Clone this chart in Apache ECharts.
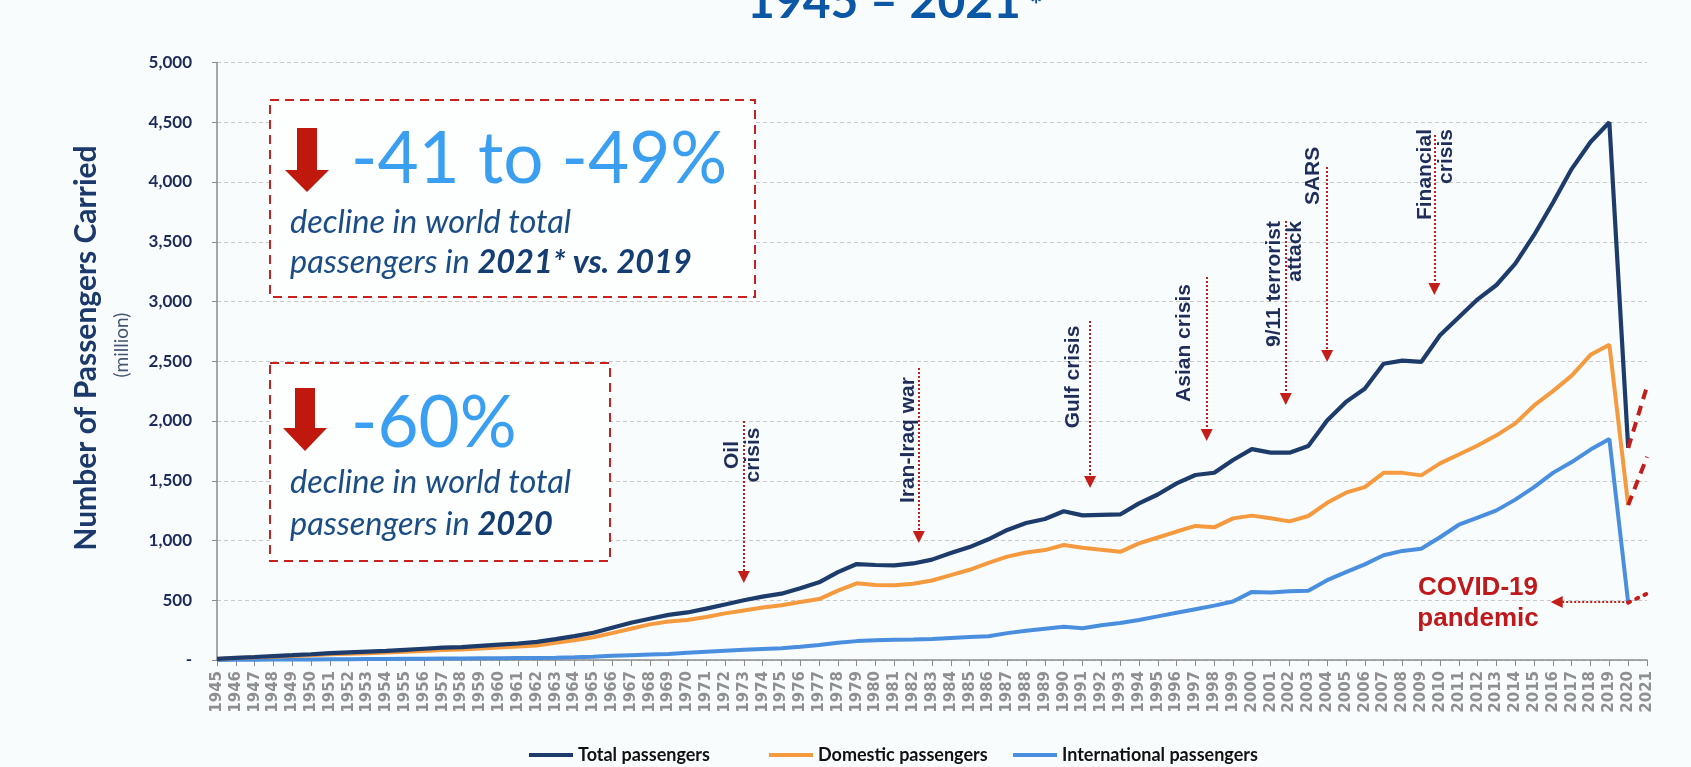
<!DOCTYPE html>
<html><head><meta charset="utf-8">
<script src="https://cdn.jsdelivr.net/npm/echarts@6/dist/echarts.min.js"></script>
<style>html,body{margin:0;padding:0;background:#f8fcfd;}#c{width:1691px;height:767px;}</style>
</head><body><div id="c"></div>
<script>
const years = ['1945','1946','1947','1948','1949','1950','1951','1952','1953','1954','1955','1956','1957','1958','1959','1960','1961','1962','1963','1964','1965','1966','1967','1968','1969','1970','1971','1972','1973','1974','1975','1976','1977','1978','1979','1980','1981','1982','1983','1984','1985','1986','1987','1988','1989','1990','1991','1992','1993','1994','1995','1996','1997','1998','1999','2000','2001','2002','2003','2004','2005','2006','2007','2008','2009','2010','2011','2012','2013','2014','2015','2016','2017','2018','2019','2020','2021'];
const totalPassengers = [10,18,25,33,40,48,58,64,70,76, 85,94,103,108,118,128,138,152,175,200, 228,270,312,345,378,398,430,465,500,530, 555,600,650,735,803,795,792,808,840,895, 945,1010,1088,1146,1180,1245,1210,1215,1218,1311, 1385,1478,1548,1567,1674,1765,1735,1735,1790,2005, 2160,2270,2479,2505,2494,2718,2868,3018,3138,3317, 3557,3826,4110,4335,4500,1775,null];
const domesticPassengers = [9,16,22,28,34,40,48,52,57,62, 69,76,83,87,96,104,112,122,145,165, 190,225,262,298,322,335,360,390,415,440, 458,485,510,580,642,628,625,638,665,710, 755,812,865,900,920,962,940,922,905,976, 1025,1075,1122,1110,1185,1208,1186,1160,1205,1315, 1400,1446,1566,1566,1545,1645,1720,1795,1880,1980, 2130,2250,2380,2554,2638,1296,null];
const internationalPassengers = [1,2,3,4,4,5,6,7,8,9, 10,11,12,13,14,15,16,17,19,22, 28,35,40,45,50,60,70,78,85,92, 98,110,125,145,158,165,170,172,175,185, 192,198,225,245,262,278,265,290,310,335, 365,395,425,455,490,570,565,575,580,668, 735,800,877,913,931,1027,1132,1192,1252,1342, 1446,1566,1656,1761,1850,480,null];
// 2021* outlook segments
const outlookYears = [2020, 2021];
const totalOutlook = [1775, 2290];
const domesticOutlook = [1296, 1700];
const internationalOutlook = [480, 555];
// crisis annotations: label, year, arrow start value, arrow tip value
const events = [
  {text:'Oil\ncrisis', year:1973, from:2000, to:695},
  {text:'Iran-Iraq war', year:1982.3, from:2443, to:1029},
  {text:'Gulf crisis', year:1991.4, from:2837, to:1490},
  {text:'Asian crisis', year:1997.6, from:3205, to:1883},
  {text:'9/11 terrorist\nattack', year:2001.8, from:3674, to:2184},
  {text:'SARS', year:2004, from:4126, to:2544},
  {text:'Financial\ncrisis', year:2009.7, from:4393, to:3105}
];
const covidArrow = {fromYear:2020, toYear:2016.2, value:485};
const yTicks = {min:0, max:5000, interval:500};

const NAVY='#1d3b6b', ORANGE='#f59a3f', BLUE='#4a8fdf', RED='#c41e1a';
const pairs = (xs, ys) => xs.map((x,i)=>[x, ys[i]]);

const chart = echarts.init(document.getElementById('c'));
const legendText = {fontFamily:'Lato', fontWeight:'bold', fontSize:18, color:'#111'};
const mkLegend = (name, left) => ({data:[name], left:left, top:741, icon:'rect', itemWidth:44, itemHeight:4, textStyle:legendText, selectedMode:false});

const option = {
  backgroundColor:'#f8fcfd',
  animation:false,
  grid:{left:217, right:44, top:62.5, bottom:107},
  legend:[mkLegend('Total passengers',524), mkLegend('Domestic passengers',764), mkLegend('International passengers',1008)],
  xAxis:[{
    type:'category', data:years, boundaryGap:false,
    axisLine:{lineStyle:{color:'#8c8c8c', width:1.5}},
    axisTick:{show:true, length:6, interval:0, lineStyle:{color:'#8c8c8c'}},
    axisLabel:{interval:0, rotate:90, margin:11, color:'#8f8f8f', fontFamily:'DejaVu Sans', fontWeight:'bold', fontSize:15},
    splitLine:{show:false}
  },{
    type:'value', min:1945, max:2021, show:false
  }],
  yAxis:{
    type:'value', min:yTicks.min, max:yTicks.max, interval:yTicks.interval,
    axisLine:{show:true, lineStyle:{color:'#8c8c8c', width:1.5}},
    axisTick:{show:true, length:5, lineStyle:{color:'#8c8c8c'}},
    axisLabel:{margin:25, color:'#1d2b5a', fontFamily:'Lato', fontWeight:'bold', fontSize:17,
      formatter:v => v===0 ? '-' : v.toLocaleString('en-US')},
    splitLine:{show:true, lineStyle:{color:'#c9c9c9', type:[4,3], width:1}}
  },
  series:[
    {name:'International passengers', type:'line', data:internationalPassengers, symbol:'none', lineStyle:{color:BLUE, width:4}, itemStyle:{color:BLUE}, z:3},
    {name:'Domestic passengers', type:'line', data:domesticPassengers, symbol:'none', lineStyle:{color:ORANGE, width:4}, itemStyle:{color:ORANGE}, z:4},
    {name:'Total passengers', type:'line', data:totalPassengers, symbol:'none', lineStyle:{color:NAVY, width:4.2}, itemStyle:{color:NAVY}, z:5},
    {name:'Total 2021*', type:'line', xAxisIndex:1, data:pairs(outlookYears,totalOutlook), symbol:'none', lineStyle:{color:RED, width:4, type:[10,7]}, z:6},
    {name:'Domestic 2021*', type:'line', xAxisIndex:1, data:pairs(outlookYears,domesticOutlook), symbol:'none', lineStyle:{color:RED, width:4, type:[10,7]}, z:6},
    {name:'International 2021*', type:'line', xAxisIndex:1, data:pairs(outlookYears,internationalOutlook), symbol:'none', lineStyle:{color:RED, width:4, type:[2,7], cap:'round'}, itemStyle:{color:RED}, z:6,
      markLine:{
        silent:true, animation:false,
        symbol:['none','triangle'], symbolSize:12,
        label:{show:false},
        itemStyle:{color:RED},
        lineStyle:{color:RED, width:2, type:[2,2], opacity:1},
        emphasis:{disabled:true},
        data: events.map(e => [{coord:[e.year, e.from]}, {coord:[e.year, e.to]}])
          .concat([[{coord:[covidArrow.fromYear, covidArrow.value]}, {coord:[covidArrow.toYear, covidArrow.value]}]])
      }
    }
  ],
  graphic:[]
};
chart.setOption(option);

const px = (yr, v) => chart.convertToPixel({xAxisIndex:1, yAxisIndex:0}, [yr, v]);
const evLayout = [
  {dx:-1, dy:34, align:'center'},
  {dx:-11, dy:72, align:'center'},
  {dx:-17, dy:56, align:'center'},
  {dx:-23, dy:66, align:'center'},
  {dx:-1, dy:0, align:'right'},
  {dx:-14, dy:9, align:'center'},
  {dx:1, dy:-6, align:'right'}
];
const evFont = {fontFamily:'Liberation Sans', fontWeight:'bold', fontSize:21, fill:'#1f2d5a', lineHeight:21};
const g = [];
events.forEach((e,i) => {
  const p = px(e.year, e.from);
  const L = evLayout[i];
  g.push({type:'text', x:p[0]+L.dx, y:p[1]+L.dy, rotation:Math.PI/2, z:20,
    style:Object.assign({text:e.text, textAlign:L.align, textVerticalAlign:'middle'}, evFont)});
});
// title (partially cut off at the top)
g.push({type:'text', x:884, y:3, z:20, style:{text:'1945 – 2021', fontFamily:'Lato', fontWeight:'bold', fontSize:48, fill:'#0b57a6', textAlign:'center', textVerticalAlign:'middle'}});
g.push({type:'text', x:1036, y:6, z:20, style:{text:'*', fontFamily:'Lato', fontWeight:'bold', fontSize:30, fill:'#0b57a6', textAlign:'center', textVerticalAlign:'middle'}});
// y axis title
g.push({type:'text', x:86, y:348, rotation:Math.PI/2, z:20, style:{text:'Number of Passengers Carried', fontFamily:'Lato', fontWeight:'bold', fontSize:30, fill:'#1b3a6b', textAlign:'center', textVerticalAlign:'middle'}});
g.push({type:'text', x:122, y:345, rotation:Math.PI/2, z:20, style:{text:'(million)', fontFamily:'Lato', fontSize:19, fill:'#44556f', textAlign:'center', textVerticalAlign:'middle'}});
// boxes
const boxStyle = {fill:'#fdfefe', stroke:'#c9211e', lineWidth:2, lineDash:[9,6]};
g.push({type:'rect', z:15, shape:{x:270, y:100, width:485, height:197}, style:boxStyle});
g.push({type:'rect', z:15, shape:{x:270, y:363, width:340, height:198}, style:boxStyle});
const arrow = (cx, top, shaftBottom, tip) => ({type:'polygon', z:20, shape:{points:[[cx-10,top],[cx+10,top],[cx+10,shaftBottom],[cx+22,shaftBottom],[cx,tip],[cx-22,shaftBottom],[cx-10,shaftBottom]]}, style:{fill:'#c0180c'}});
g.push(arrow(307, 128, 170, 192));
g.push(arrow(305, 388, 428, 451));
const big = {fontFamily:'Lato', fontSize:71, fill:'#3a9ff0', textAlign:'left', textVerticalAlign:'middle'};
g.push({type:'text', x:351, y:160, z:20, style:Object.assign({text:'-41 to -49%'}, big)});
g.push({type:'text', x:351, y:424, z:20, style:Object.assign({text:'-60%'}, big)});
const it = {fontFamily:'Lato', fontStyle:'italic', fontSize:32.5, fill:'#1a4c86'};
const itb = {fontFamily:'Lato', fontStyle:'italic', fontWeight:'bold', fontSize:32.5, fill:'#143d73'};
g.push({type:'text', x:290, y:223, z:20, style:Object.assign({text:'decline in world total', textAlign:'left', textVerticalAlign:'middle'}, it)});
g.push({type:'text', x:290, y:263, z:20, style:{text:'{a|passengers in }{b|2021* vs. 2019}', textAlign:'left', textVerticalAlign:'middle', rich:{a:it, b:itb}}});
g.push({type:'text', x:290, y:483, z:20, style:Object.assign({text:'decline in world total', textAlign:'left', textVerticalAlign:'middle'}, it)});
g.push({type:'text', x:290, y:525, z:20, style:{text:'{a|passengers in }{b|2020}', textAlign:'left', textVerticalAlign:'middle', rich:{a:it, b:itb}}});
// COVID label
g.push({type:'text', x:1478, y:603, z:20, style:{text:'COVID-19\npandemic', fontFamily:'Liberation Sans', fontWeight:'bold', fontSize:26, lineHeight:31, fill:'#c0191b', textAlign:'center', textVerticalAlign:'middle'}});
chart.setOption({graphic:g});
</script></body></html>
